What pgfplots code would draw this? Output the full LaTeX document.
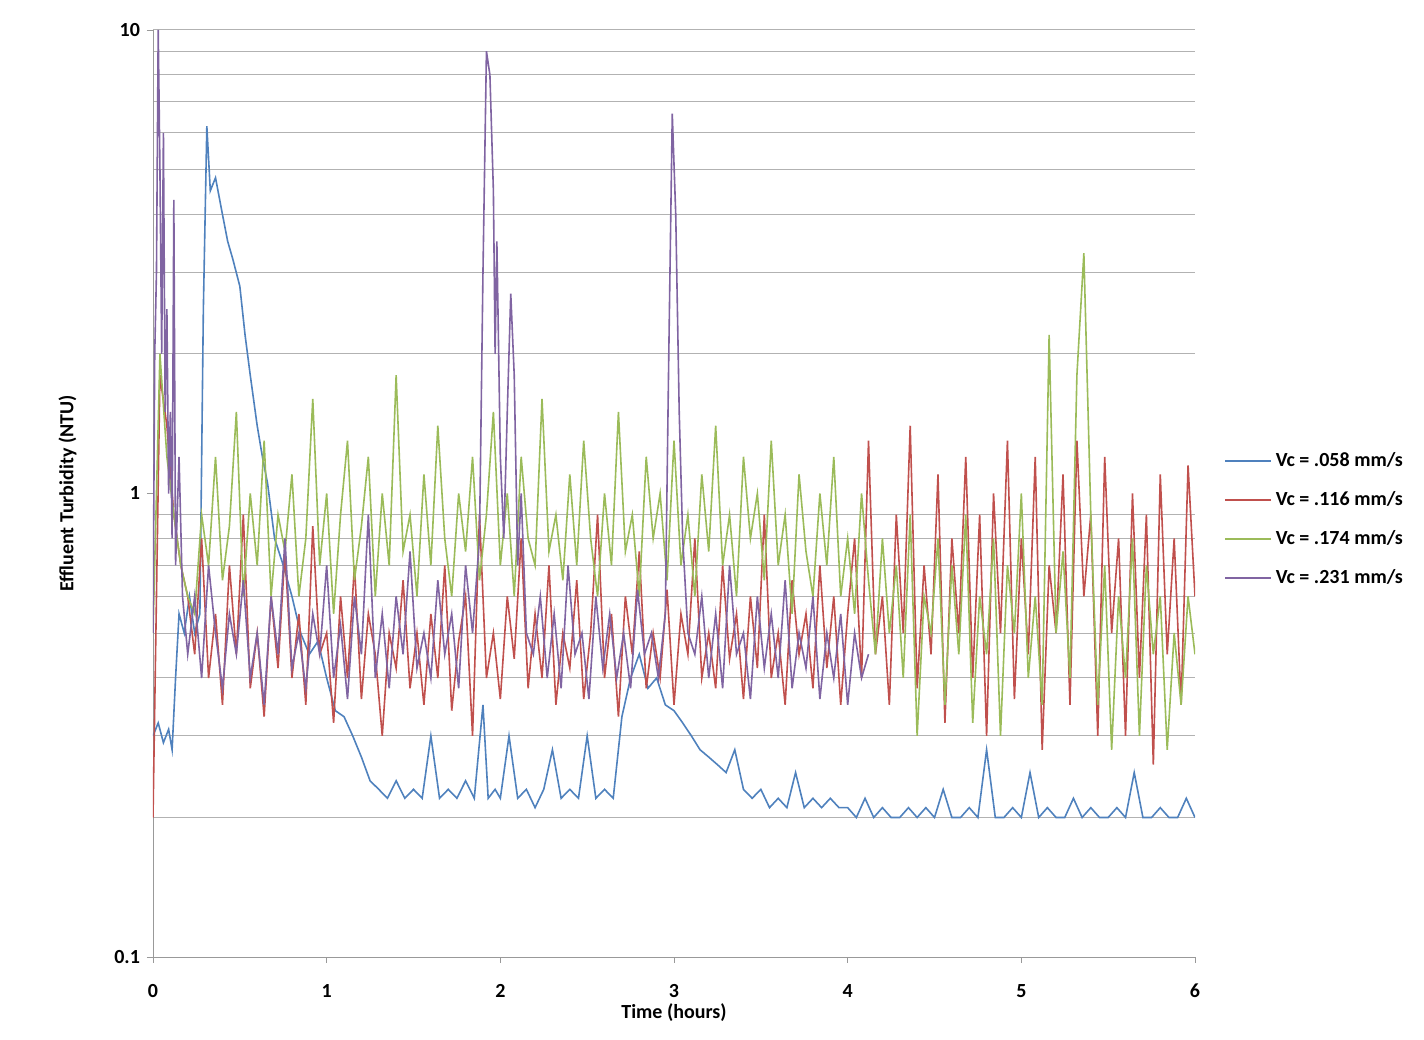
\documentclass[border=0pt]{standalone}
\usepackage{pgfplots}
\pgfplotsset{compat=1.18}
\usepackage{fontspec}
\setmainfont{Carlito}
\definecolor{cB}{HTML}{4F81BD}
\definecolor{cR}{HTML}{C0504D}
\definecolor{cG}{HTML}{9BBB59}
\definecolor{cP}{HTML}{8064A2}
\begin{document}
\begin{tikzpicture}
\begin{axis}[name=ax,
 scale only axis, width=521pt, height=463.5pt,
 ymode=log, xmin=0, xmax=6, ymin=0.1, ymax=10,
 axis x line*=bottom, axis y line*=left,
 axis line style={gray!80}, tick style={gray!80},
 xtick={0,1,...,6}, ytick={0.1,1,10}, yticklabels={0.1,1,10},
 minor ytick={0.2,0.3,0.4,0.5,0.6,0.7,0.8,0.9,2,3,4,5,6,7,8,9,10},
 yminorgrids, minor grid style={gray!60, line width=0.5pt},
 minor tick length=0pt, major tick length=3pt, xtick pos=bottom, ytick pos=left,
 tick align=outside,
 ticklabel style={font=\bfseries\fontsize{10}{11}\selectfont},
 xticklabel style={yshift=-7pt},
 /pgf/number format/assume math mode=true,
 xlabel={\bfseries Time (hours)}, ylabel={\bfseries Effluent Turbidity (NTU)},
 label style={font=\bfseries\fontsize{10}{11}\selectfont},
 xlabel style={yshift=4pt}, ylabel style={yshift=12pt},
 legend style={at={(rel axis cs:1.022,0.472)}, anchor=west, draw=none, fill=none,
   font=\bfseries\fontsize{10}{11}\selectfont, row sep=7pt},
 legend cell align=left,
 legend image code/.code={\draw[#1, line width=1pt] (0cm,0cm) -- (0.8cm,0cm);},
 every axis plot/.append style={line width=0.8pt},
]
\addplot[cB] coordinates {(0,0.3)(0.03,0.32)(0.06,0.29)(0.09,0.31)(0.11,0.28)(0.13,0.4)(0.15,0.55)(0.18,0.5)(0.21,0.6)(0.24,0.5)(0.27,0.55)(0.29,2.5)(0.31,6.2)(0.33,4.5)(0.36,4.8)(0.4,4.0)(0.43,3.5)(0.46,3.2)(0.5,2.8)(0.53,2.2)(0.56,1.8)(0.6,1.4)(0.63,1.2)(0.66,1.05)(0.7,0.8)(0.75,0.7)(0.8,0.6)(0.85,0.5)(0.9,0.45)(0.95,0.48)(1.0,0.4)(1.05,0.34)(1.1,0.33)(1.15,0.3)(1.2,0.27)(1.25,0.24)(1.3,0.23)(1.35,0.22)(1.4,0.24)(1.45,0.22)(1.5,0.23)(1.55,0.22)(1.6,0.3)(1.65,0.22)(1.7,0.23)(1.75,0.22)(1.8,0.24)(1.85,0.22)(1.9,0.35)(1.93,0.22)(1.97,0.23)(2.0,0.22)(2.05,0.3)(2.1,0.22)(2.15,0.23)(2.2,0.21)(2.25,0.23)(2.3,0.28)(2.35,0.22)(2.4,0.23)(2.45,0.22)(2.5,0.3)(2.55,0.22)(2.6,0.23)(2.65,0.22)(2.7,0.33)(2.75,0.4)(2.8,0.45)(2.85,0.38)(2.9,0.4)(2.95,0.35)(3.0,0.34)(3.05,0.32)(3.1,0.3)(3.15,0.28)(3.2,0.27)(3.25,0.26)(3.3,0.25)(3.35,0.28)(3.4,0.23)(3.45,0.22)(3.5,0.23)(3.55,0.21)(3.6,0.22)(3.65,0.21)(3.7,0.25)(3.75,0.21)(3.8,0.22)(3.85,0.21)(3.9,0.22)(3.95,0.21)(4.0,0.21)(4.05,0.2)(4.1,0.22)(4.15,0.2)(4.2,0.21)(4.25,0.2)(4.3,0.2)(4.35,0.21)(4.4,0.2)(4.45,0.21)(4.5,0.2)(4.55,0.23)(4.6,0.2)(4.65,0.2)(4.7,0.21)(4.75,0.2)(4.8,0.28)(4.85,0.2)(4.9,0.2)(4.95,0.21)(5.0,0.2)(5.05,0.25)(5.1,0.2)(5.15,0.21)(5.2,0.2)(5.25,0.2)(5.3,0.22)(5.35,0.2)(5.4,0.21)(5.45,0.2)(5.5,0.2)(5.55,0.21)(5.6,0.2)(5.65,0.25)(5.7,0.2)(5.75,0.2)(5.8,0.21)(5.85,0.2)(5.9,0.2)(5.95,0.22)(6.0,0.2)};
\addlegendentry{Vc = .058 mm/s}
\addplot[cR] table[x expr=\coordindex*0.04, y index=0, header=false] {
0.2
1.8
1.4
0.9
0.7
0.6
0.45
0.8
0.4
0.55
0.35
0.7
0.45
0.9
0.38
0.5
0.33
0.6
0.42
0.75
0.4
0.55
0.35
0.85
0.45
0.5
0.32
0.6
0.4
0.7
0.36
0.55
0.45
0.3
0.5
0.42
0.65
0.38
0.5
0.35
0.55
0.4
0.7
0.34
0.48
0.6
0.3
0.9
0.4
0.5
0.36
0.6
0.44
0.8
0.38
0.55
0.4
0.7
0.35
0.5
0.42
0.65
0.36
0.5
0.9
0.4
0.55
0.33
0.6
0.45
0.75
0.38
0.5
0.4
0.62
0.35
0.55
0.45
0.8
0.4
0.5
0.38
0.7
0.44
0.55
0.36
0.6
0.42
0.9
0.4
0.5
0.35
0.65
0.45
0.55
0.38
0.7
0.42
0.6
0.35
0.55
0.8
0.4
1.3
0.45
0.6
0.35
0.9
0.5
1.4
0.38
0.7
0.45
1.1
0.32
0.8
0.5
1.2
0.4
0.9
0.3
1.0
0.5
1.3
0.36
0.8
0.45
1.2
0.28
0.7
0.5
1.1
0.35
1.3
0.6
0.9
0.3
1.2
0.5
0.8
0.3
1.0
0.4
0.9
0.26
1.1
0.45
0.8
0.35
1.15
0.6
};
\addlegendentry{Vc = .116 mm/s}
\addplot[cG] table[x expr=\coordindex*0.04, y index=0, header=false] {
0.5
2.0
1.2
0.9
0.7
0.6
0.55
0.9
0.7
1.2
0.65
0.85
1.5
0.6
1.0
0.7
1.3
0.6
0.9
0.75
1.1
0.6
0.8
1.6
0.7
1.0
0.55
0.9
1.3
0.65
0.85
1.2
0.6
1.0
0.7
1.8
0.75
0.9
0.6
1.1
0.7
1.4
0.8
0.6
1.0
0.75
1.2
0.65
0.9
1.5
0.7
1.0
0.6
1.2
0.8
0.7
1.6
0.75
0.9
0.65
1.1
0.7
1.3
0.8
0.6
1.0
0.7
1.5
0.75
0.9
0.6
1.2
0.8
1.0
0.65
1.3
0.7
0.9
0.6
1.1
0.75
1.4
0.7
0.9
0.6
1.2
0.8
1.0
0.65
1.3
0.7
0.9
0.55
1.1
0.75
0.6
1.0
0.7
1.2
0.6
0.8
0.55
1.0
0.65
0.45
0.8
0.5
0.7
0.4
0.9
0.3
0.6
0.5
0.8
0.35
0.7
0.45
0.9
0.32
0.6
0.45
0.8
0.3
0.7
0.5
1.0
0.4
0.6
0.35
2.2
0.5
0.75
0.4
1.8
3.3
0.9
0.35
0.7
0.28
0.6
0.4
0.8
0.3
0.7
0.45
0.6
0.28
0.5
0.35
0.6
0.45
};
\addlegendentry{Vc = .174 mm/s}
\addplot[cP] coordinates {(0,0.5)(0.01,2)(0.02,3)(0.03,10)(0.04,5)(0.05,2)(0.06,6)(0.07,1.5)(0.08,2.5)(0.09,1)(0.1,1.5)(0.11,0.8)(0.12,4.3)(0.13,0.7)(0.15,1.2)(0.17,0.6)
(0.2,0.45)(0.24,0.6)(0.28,0.4)(0.32,0.7)(0.36,0.5)(0.4,0.38)(0.44,0.55)(0.48,0.45)(0.52,0.65)(0.56,0.4)(0.6,0.5)(0.64,0.35)(0.68,0.6)(0.72,0.45)(0.76,0.8)(0.8,0.42)(0.84,0.5)(0.88,0.38)(0.92,0.55)(0.96,0.45)(1.0,0.7)(1.04,0.4)(1.08,0.52)(1.12,0.36)(1.16,0.6)(1.2,0.45)(1.24,0.9)(1.28,0.4)(1.32,0.55)(1.36,0.38)(1.4,0.6)(1.44,0.45)(1.48,0.75)(1.52,0.42)(1.56,0.5)(1.6,0.4)(1.64,0.65)(1.68,0.45)(1.72,0.55)(1.76,0.38)(1.8,0.7)(1.84,0.5)(1.88,0.8)
(1.9,3)(1.92,9)(1.94,8)(1.96,4.5)(1.97,2)(1.98,3.5)(2.0,1.2)(2.02,0.8)(2.04,1.5)(2.06,2.7)(2.08,1.8)(2.1,0.7)(2.12,1.0)(2.15,0.5)
(2.19,0.45)(2.23,0.6)(2.27,0.4)(2.31,0.55)(2.35,0.38)(2.39,0.7)(2.43,0.45)(2.47,0.5)(2.51,0.36)(2.55,0.6)(2.59,0.42)(2.63,0.55)(2.67,0.4)(2.71,0.5)(2.75,0.38)(2.79,0.62)(2.83,0.45)(2.87,0.5)(2.91,0.4)(2.95,0.55)
(2.97,2)(2.99,6.6)(3.01,4)(3.03,1.5)(3.05,0.8)(3.08,0.5)
(3.12,0.45)(3.16,0.6)(3.2,0.4)(3.24,0.55)(3.28,0.38)(3.32,0.7)(3.36,0.45)(3.4,0.5)(3.44,0.36)(3.48,0.6)(3.52,0.42)(3.56,0.55)(3.6,0.4)(3.64,0.65)(3.68,0.38)(3.72,0.5)(3.76,0.42)(3.8,0.6)(3.84,0.36)(3.88,0.5)(3.92,0.4)(3.96,0.55)(4.0,0.35)(4.04,0.5)(4.08,0.4)(4.12,0.45)};
\addlegendentry{Vc = .231 mm/s}
\end{axis}
\path ([shift={(-76.5pt,-41pt)}]ax.south west) rectangle ([shift={(114.5pt,15pt)}]ax.north east);
\end{tikzpicture}
\end{document}
